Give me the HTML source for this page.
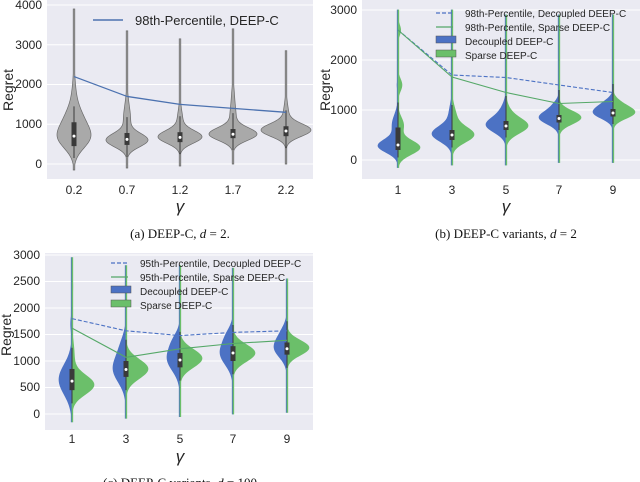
<!DOCTYPE html>
<html><head><meta charset="utf-8"><style>
body{margin:0;background:#fff;width:640px;height:482px;overflow:hidden}
svg{position:absolute;left:0;top:0}
text{font-family:"Liberation Sans",sans-serif;fill:#262626}
.cap{font-family:"Liberation Serif",serif;font-size:13px;fill:#111}
</style></head><body>
<svg id="s" width="640" height="482" xmlns="http://www.w3.org/2000/svg">
<rect x="47" y="0" width="266" height="179" fill="#eaeaf2"/>
<rect x="362" y="0" width="278" height="179" fill="#eaeaf2"/>
<rect x="45" y="253" width="268" height="177" fill="#eaeaf2"/>
<g id="grid"></g>
<g id="v"></g>
<g font-size="12" text-anchor="end">
<text x="42" y="9">4000</text><text x="42" y="49">3000</text><text x="42" y="88">2000</text><text x="42" y="128">1000</text><text x="42" y="168">0</text>
</g>
<g font-size="12" text-anchor="middle">
<text x="74" y="194">0.2</text><text x="127" y="194">0.7</text><text x="180" y="194">1.2</text><text x="233" y="194">1.7</text><text x="286" y="194">2.2</text>
</g>
<text x="0" y="0" font-size="14" transform="translate(13,90) rotate(-90)" text-anchor="middle">Regret</text>
<text x="180" y="212" font-size="17" font-style="italic" text-anchor="middle">γ</text>
<line x1="93" y1="20" x2="123" y2="20" stroke="#4c72b0" stroke-width="1.5"/>
<text x="135" y="25" font-size="13">98th-Percentile, DEEP-C</text>
<text class="cap" x="180" y="238" text-anchor="middle">(a) DEEP-C, <tspan font-style="italic">d</tspan> = 2.</text>
<g font-size="12" text-anchor="end">
<text x="357" y="14">3000</text><text x="357" y="64">2000</text><text x="357" y="114">1000</text><text x="357" y="164">0</text>
</g>
<g font-size="12" text-anchor="middle">
<text x="398" y="194">1</text><text x="452" y="194">3</text><text x="506" y="194">5</text><text x="559" y="194">7</text><text x="613" y="194">9</text>
</g>
<text font-size="14" transform="translate(330,90) rotate(-90)" text-anchor="middle">Regret</text>
<text x="506" y="212" font-size="17" font-style="italic" text-anchor="middle">γ</text>
<text class="cap" x="506" y="238" text-anchor="middle">(b) DEEP-C variants, <tspan font-style="italic">d</tspan> = 2</text>
<g font-size="12" text-anchor="end">
<text x="40" y="259">3000</text><text x="40" y="285">2500</text><text x="40" y="312">2000</text><text x="40" y="338">1500</text><text x="40" y="365">1000</text><text x="40" y="391">500</text><text x="40" y="418">0</text>
</g>
<g font-size="12" text-anchor="middle">
<text x="72" y="443">1</text><text x="126" y="443">3</text><text x="180" y="443">5</text><text x="233" y="443">7</text><text x="287" y="443">9</text>
</g>
<text font-size="14" transform="translate(11,335) rotate(-90)" text-anchor="middle">Regret</text>
<text x="180" y="462" font-size="17" font-style="italic" text-anchor="middle">γ</text>
<text class="cap" x="180" y="487" text-anchor="middle">(c) DEEP-C variants, <tspan font-style="italic">d</tspan> = 100</text>
<g id="leg"></g>
</svg>
<script>
var NS="http://www.w3.org/2000/svg";
function el(p,t,a){var e=document.createElementNS(NS,t);for(var k in a)e.setAttribute(k,a[k]);p.appendChild(e);return e;}
var g=document.getElementById('grid'),v=document.getElementById('v'),L=document.getElementById('leg');
var A=function(val){return 164-val*0.03975;}, B=function(val){return 160-val*0.05;}, C=function(val){return 414-val*0.053;};
[0,1000,2000,3000,4000].forEach(function(t){el(g,'line',{x1:47,x2:313,y1:A(t),y2:A(t),stroke:'#fff','stroke-width':1});});
[0,1000,2000,3000].forEach(function(t){el(g,'line',{x1:362,x2:640,y1:B(t),y2:B(t),stroke:'#fff','stroke-width':1});});
[0,500,1000,1500,2000,2500,3000].forEach(function(t){el(g,'line',{x1:45,x2:313,y1:C(t),y2:C(t),stroke:'#fff','stroke-width':1});});
function dens(y,comps){var s=0;comps.forEach(function(c){s+=c[2]*Math.exp(-0.5*Math.pow((y-c[0])/c[1],2));});return s;}
function violin(cx,Y,lo,hi,comps,W,side,fill,stroke){
 var n=120,mx=0,i,y,d,ds=[];
 for(i=0;i<=n;i++){y=lo+(hi-lo)*i/n;d=dens(y,comps);ds.push(d);if(d>mx)mx=d;}
 var p=[];
 if(side==0){var r=[],l=[];for(i=0;i<=n;i++){y=lo+(hi-lo)*i/n;var w=Math.max(ds[i]/mx*W,0.8);r.push((cx+w)+','+Y(y));l.unshift((cx-w)+','+Y(y));}p=r.concat(l);}
 else{for(i=0;i<=n;i++){y=lo+(hi-lo)*i/n;p.push((cx+side*Math.max(ds[i]/mx*W,0.8))+','+Y(y));}p.push(cx+','+Y(hi));p.push(cx+','+Y(lo));}
 el(v,'polygon',{points:p.join(' '),fill:fill,stroke:stroke,'stroke-width':0.7});
}
function box(cx,Y,q1,q3,wl,wh,med){
 el(v,'line',{x1:cx,x2:cx,y1:Y(wl),y2:Y(wh),stroke:'#3a3a3a','stroke-width':1});
 el(v,'rect',{x:cx-2.5,y:Y(q3),width:5,height:Y(q1)-Y(q3),fill:'#3a3a3a'});
 el(v,'circle',{cx:cx,cy:Y(med),r:1.5,fill:'#fff'});
}
var ax=[74,127,180,233,286];
var aP=[[[650,280,1],[1100,300,0.5],[1600,400,0.15],[2800,600,0.03]],[[600,170,1],[1100,250,0.15],[1500,250,0.06],[2500,500,0.02]],[[680,160,1],[1100,250,0.12],[2000,500,0.02]],[[750,160,1],[1200,250,0.12],[1700,250,0.05],[2800,600,0.015]],[[850,160,1],[1250,250,0.1],[2200,500,0.02]]];
var aR=[[-150,3900],[-100,3350],[-50,3150],[0,3400],[0,2850]],aW=[17,21,22,24,25];
var aM=[[450,1050,700],[480,780,620],[550,800,670],[650,880,750],[700,950,830]];
ax.forEach(function(x,i){violin(x,A,aR[i][0],aR[i][1],aP[i],aW[i],0,'#a9a9a9','#6a6a6a');box(x,A,aM[i][0],aM[i][1],aM[i][0]-300,aM[i][1]+400,aM[i][2]);});
el(v,'polyline',{points:ax.map(function(x,i){return x+','+A([2200,1700,1500,1400,1300][i]);}).join(' '),fill:'none',stroke:'#4c72b0','stroke-width':1.3});
var BL='#4c72c4',GR='#6bbf6a';
var bx=[398,452,506,559,613];
var bB=[[[280,130,1],[700,200,0.3],[1500,100,0.05],[2600,100,0.03]],[[520,150,1],[900,200,0.15],[1600,100,0.02]],[[700,150,1],[1000,150,0.2]],[[850,130,1],[1100,100,0.2]],[[950,120,1],[1150,100,0.3]]];
var bG=[[[250,140,1],[700,150,0.25],[1500,120,0.18],[2600,100,0.12]],[[500,150,1],[850,200,0.2]],[[680,150,1],[950,150,0.15]],[[850,130,1]],[[950,120,1],[1150,100,0.2]]];
var bR=[[-150,3000],[-100,3000],[-100,2900],[-50,2900],[-50,2900]];
var bM=[[200,650,300],[400,600,500],[600,780,680],[750,900,830],[870,1020,940]];
bx.forEach(function(x,i){violin(x,B,bR[i][0],bR[i][1],bB[i],20,-1,BL,BL);violin(x,B,bR[i][0],bR[i][1],bG[i],22,1,GR,GR);box(x,B,bM[i][0],bM[i][1],bM[i][0]-150,bM[i][1]+500,bM[i][2]);});
el(v,'polyline',{points:bx.map(function(x,i){return x+','+B([2600,1700,1650,1500,1350][i]);}).join(' '),fill:'none',stroke:'#4c72c4','stroke-width':1.1,'stroke-dasharray':'4,2'});
el(v,'polyline',{points:bx.map(function(x,i){return x+','+B([2600,1660,1350,1130,1170][i]);}).join(' '),fill:'none',stroke:'#55a868','stroke-width':1.1});
var cx=[72,126,180,233,287];
var cB=[[[650,280,1],[1700,150,0.1]],[[850,250,1],[1300,200,0.3]],[[1050,230,1],[1400,150,0.3]],[[1150,220,1],[1500,150,0.3]],[[1250,180,1],[1550,150,0.3]]];
var cG=[[[550,180,1],[1100,250,0.1],[2400,200,0.04]],[[850,180,1]],[[1050,170,1]],[[1150,160,1]],[[1250,140,1]]];
var cR=[[-150,2950],[-80,2800],[-50,2800],[0,2750],[30,2550]];
var cM=[[450,850,620],[700,1000,840],[880,1150,1020],[1000,1280,1150],[1120,1350,1230]];
cx.forEach(function(x,i){violin(x,C,cR[i][0],cR[i][1],cB[i],13,-1,BL,BL);violin(x,C,cR[i][0],cR[i][1],cG[i],22,1,GR,GR);box(x,C,cM[i][0],cM[i][1],cM[i][0]-250,cM[i][1]+400,cM[i][2]);});
el(v,'polyline',{points:cx.map(function(x,i){return x+','+C([1800,1570,1480,1540,1570][i]);}).join(' '),fill:'none',stroke:'#4c72c4','stroke-width':1.1,'stroke-dasharray':'4,2'});
el(v,'polyline',{points:cx.map(function(x,i){return x+','+C([1620,1070,1230,1330,1390][i]);}).join(' '),fill:'none',stroke:'#55a868','stroke-width':1.1});
function leg(x0,y0,labels,fs){
 el(L,'line',{x1:x0,x2:x0+17,y1:y0,y2:y0,stroke:'#4c72c4','stroke-width':1.2,'stroke-dasharray':'4,2'});
 el(L,'line',{x1:x0,x2:x0+17,y1:y0+14,y2:y0+14,stroke:'#55a868','stroke-width':1.2});
 el(L,'rect',{x:x0,y:y0+23,width:20,height:7,fill:BL,stroke:'#555','stroke-width':0.5});
 el(L,'rect',{x:x0,y:y0+37,width:20,height:7,fill:GR,stroke:'#555','stroke-width':0.5});
 labels.forEach(function(t,i){var e=el(L,'text',{x:x0+29,y:y0+4+i*14,'font-size':fs});e.textContent=t;});
}
leg(436,13,['98th-Percentile, Decoupled DEEP-C','98th-Percentile, Sparse DEEP-C','Decoupled DEEP-C','Sparse DEEP-C'],10);
leg(111,263,['95th-Percentile, Decoupled DEEP-C','95th-Percentile, Sparse DEEP-C','Decoupled DEEP-C','Sparse DEEP-C'],10);
</script>
</body></html>
